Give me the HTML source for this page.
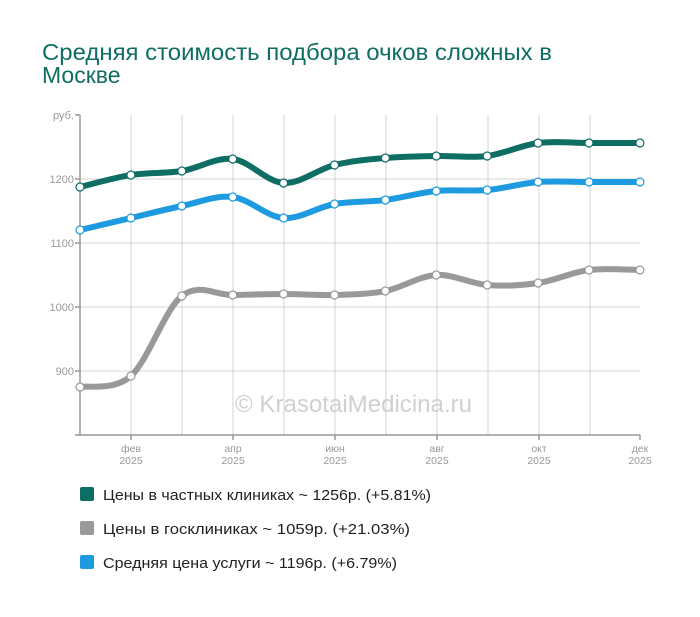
<!DOCTYPE html>
<html><head><meta charset="utf-8"><style>
body{margin:0;background:#fff;width:700px;height:612px;overflow:hidden;font-family:"Liberation Sans",sans-serif}
</style></head><body>
<svg width="700" height="612" xmlns="http://www.w3.org/2000/svg" font-family="Liberation Sans, sans-serif">
<text x="42" y="60" font-size="23" fill="#0f6e64" textLength="510" lengthAdjust="spacingAndGlyphs">Средняя стоимость подбора очков сложных в</text>
<text x="42" y="83" font-size="23" fill="#0f6e64">Москве</text>
<g stroke="#d4d4d4" stroke-width="1">
<line x1="80" y1="179" x2="640" y2="179"/><line x1="80" y1="243" x2="640" y2="243"/><line x1="80" y1="307" x2="640" y2="307"/><line x1="80" y1="371" x2="640" y2="371"/>
<line x1="131" y1="115" x2="131" y2="435"/><line x1="182" y1="115" x2="182" y2="435"/><line x1="233" y1="115" x2="233" y2="435"/><line x1="284" y1="115" x2="284" y2="435"/><line x1="335" y1="115" x2="335" y2="435"/><line x1="386" y1="115" x2="386" y2="435"/><line x1="437" y1="115" x2="437" y2="435"/><line x1="488" y1="115" x2="488" y2="435"/><line x1="539" y1="115" x2="539" y2="435"/><line x1="590" y1="115" x2="590" y2="435"/>
</g>
<g stroke="#999" stroke-width="1.5"><line x1="80" y1="115" x2="80" y2="436"/><line x1="75" y1="435" x2="640" y2="435"/>
<line x1="75" y1="115" x2="80" y2="115"/><line x1="75" y1="179" x2="80" y2="179"/><line x1="75" y1="243" x2="80" y2="243"/><line x1="75" y1="307" x2="80" y2="307"/><line x1="75" y1="371" x2="80" y2="371"/>
<line x1="131" y1="435" x2="131" y2="440"/><line x1="233" y1="435" x2="233" y2="440"/><line x1="335" y1="435" x2="335" y2="440"/><line x1="437" y1="435" x2="437" y2="440"/><line x1="539" y1="435" x2="539" y2="440"/><line x1="640" y1="435" x2="640" y2="440"/></g>
<g font-size="11" fill="#999" text-anchor="end">
<text x="74" y="119">руб.</text><text x="74" y="183">1200</text><text x="74" y="247">1100</text><text x="74" y="311">1000</text><text x="74" y="375">900</text></g>
<g font-size="10.5" fill="#999" text-anchor="middle">
<text x="131" y="452">фев</text><text x="131" y="464">2025</text>
<text x="233" y="452">апр</text><text x="233" y="464">2025</text>
<text x="335" y="452">июн</text><text x="335" y="464">2025</text>
<text x="437" y="452">авг</text><text x="437" y="464">2025</text>
<text x="539" y="452">окт</text><text x="539" y="464">2025</text>
<text x="640" y="452">дек</text><text x="640" y="464">2025</text></g>
<text x="235" y="412" font-size="24" fill="#d0d0d0" textLength="237" lengthAdjust="spacingAndGlyphs">© KrasotaiMedicina.ru</text>
<g id="s"></g>
<g font-size="15" fill="#222">
<rect x="80" y="487" width="14" height="14" rx="2" fill="#0f6e64"/><text x="103" y="500" textLength="328" lengthAdjust="spacingAndGlyphs">Цены в частных клиниках ~ 1256р. (+5.81%)</text>
<rect x="80" y="521" width="14" height="14" rx="2" fill="#999"/><text x="103" y="534" textLength="307" lengthAdjust="spacingAndGlyphs">Цены в госклиниках ~ 1059р. (+21.03%)</text>
<rect x="80" y="555" width="14" height="14" rx="2" fill="#1e9be0"/><text x="103" y="568" textLength="294" lengthAdjust="spacingAndGlyphs">Средняя цена услуги ~ 1196р. (+6.79%)</text>
</g>
</svg>
<script>
var xs=[];for(var i=0;i<12;i++)xs.push(80+i*50.9);
var S=[["#999",[387,376,296,295,294,295,291,275,285,283,270,270]],
["#1e9be0",[230,218,206,197,218,204,200,191,190,182,182,182]],
["#0f6e64",[187,175,171,159,183,165,158,156,156,143,143,143]]];
var g=document.getElementById('s'),h='';
S.forEach(function(s){var y=s[1],d='M'+xs[0]+','+y[0];
for(var i=0;i<11;i++){var p0=i?i-1:0,p3=i<10?i+2:11;
var c1x=xs[i]+(xs[i+1]-xs[p0])/6,c1y=y[i]+(y[i+1]-y[p0])/6,c2x=xs[i+1]-(xs[p3]-xs[i])/6,c2y=y[i+1]-(y[p3]-y[i])/6;
d+=' C'+c1x+','+c1y+' '+c2x+','+c2y+' '+xs[i+1]+','+y[i+1];}
h+='<path d="'+d+'" fill="none" stroke="'+s[0]+'" stroke-width="6" stroke-linecap="round"/>';
for(var i=0;i<12;i++)h+='<circle cx="'+xs[i]+'" cy="'+y[i]+'" r="4" fill="#fff" stroke="'+s[0]+'" stroke-width="1.2"/>';});
g.innerHTML=h;
</script>
</body></html>
